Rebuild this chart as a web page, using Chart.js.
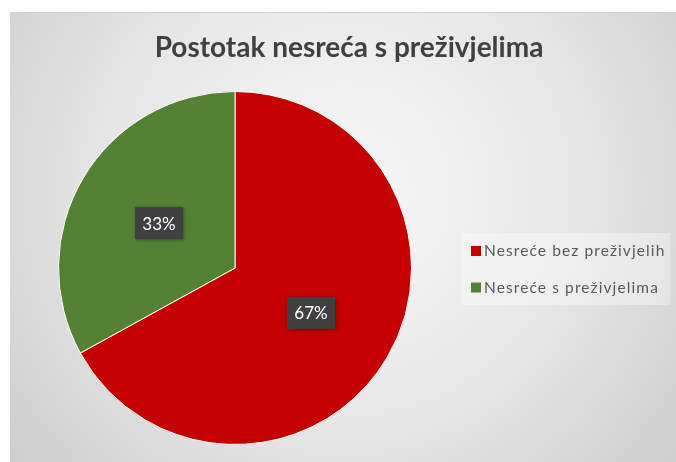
<!DOCTYPE html>
<html>
<head>
<meta charset="utf-8">
<script src="https://cdn.jsdelivr.net/npm/chart.js@4/dist/chart.umd.min.js"></script>
<style>
  html, body { margin: 0; padding: 0; background: #ffffff; }
  #chart { display: block; }
</style>
</head>
<body>
<canvas id="chart" width="676" height="462"></canvas>
<script>
// Chart data
const chartTitle = 'Postotak nesreća s preživjelima';
const categories = ['Nesreće bez preživjelih', 'Nesreće s preživjelima'];
const percentages = [67, 33];
const sliceColors = ['#C40000', '#548235'];

// Gray gradient panel behind everything
const panelBackground = {
    id: 'panelBackground',
    beforeDraw: (chart) => {
        const ctx = chart.ctx;
        ctx.save();
        ctx.fillStyle = '#ffffff';
        ctx.fillRect(0, 0, chart.width, chart.height);
        const grad = ctx.createRadialGradient(345, 190, 0, 345, 190, 430);
        grad.addColorStop(0, '#f8f8f8');
        grad.addColorStop(0.55, '#e6e6e6');
        grad.addColorStop(1, '#cdcdcd');
        ctx.fillStyle = grad;
        ctx.fillRect(10, 12, chart.width - 10, chart.height - 12);
        ctx.strokeStyle = '#cfcfcf';
        ctx.lineWidth = 1;
        ctx.beginPath();
        ctx.moveTo(10, 12.5);
        ctx.lineTo(chart.width, 12.5);
        ctx.stroke();
        ctx.restore();
    }
};

// Title, legend and percent boxes
const chartText = {
    id: 'chartText',
    afterDraw: (chart) => {
        const ctx = chart.ctx;
        ctx.save();

        // title
        ctx.font = 'bold 28px Lato';
        ctx.fillStyle = '#404040';
        ctx.textAlign = 'center';
        ctx.textBaseline = 'alphabetic';
        ctx.fillText(chartTitle, 349, 57);

        // legend
        ctx.fillStyle = 'rgba(255,255,255,0.35)';
        ctx.fillRect(461, 233, 209, 72);
        ctx.font = '15.5px Lato';
        ctx.letterSpacing = '1.1px';
        ctx.textAlign = 'left';
        ctx.textBaseline = 'middle';
        categories.forEach((label, i) => {
            const y = 251 + i * 36.5;
            ctx.fillStyle = sliceColors[i];
            ctx.fillRect(471, y - 5, 10, 10);
            ctx.fillStyle = '#595959';
            ctx.fillText(label, 484, y);
        });
        ctx.letterSpacing = '0px';

        // data labels at the slice centers
        const meta = chart.getDatasetMeta(0);
        ctx.font = '17px Lato';
        ctx.textAlign = 'center';
        meta.data.forEach((arc, i) => {
            const pos = arc.tooltipPosition();
            ctx.shadowColor = 'rgba(0,0,0,0.35)';
            ctx.shadowBlur = 4;
            ctx.shadowOffsetX = 1;
            ctx.shadowOffsetY = 1;
            ctx.fillStyle = '#404040';
            ctx.fillRect(pos.x - 24, pos.y - 16, 48, 32);
            ctx.shadowColor = 'transparent';
            ctx.fillStyle = '#ffffff';
            ctx.fillText(percentages[i] + '%', pos.x, pos.y + 1);
        });

        ctx.restore();
    }
};

new Chart(document.querySelector('#chart').getContext('2d'), {
    type: 'pie',
    data: {
        labels: categories,
        datasets: [{
            data: percentages,
            backgroundColor: sliceColors,
            borderColor: '#ffffff',
            borderWidth: 1
        }]
    },
    options: {
        responsive: false,
        animation: false,
        layout: {
            padding: { left: 58, right: 264, top: 91, bottom: 17 }
        },
        plugins: {
            legend: { display: false },
            tooltip: { enabled: false },
            title: { display: false }
        }
    },
    plugins: [panelBackground, chartText]
});
</script>
</body>
</html>
